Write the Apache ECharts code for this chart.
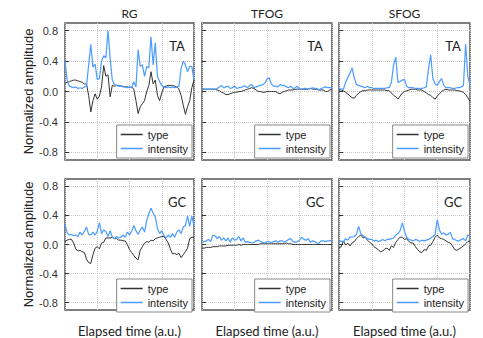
<!DOCTYPE html>
<html>
<head>
<meta charset="utf-8">
<script src="https://cdn.jsdelivr.net/npm/echarts@6/dist/echarts.min.js"></script>
<style>
html, body { margin: 0; padding: 0; background: #fff; }
#chart { width: 483px; height: 338px; }
</style>
</head>
<body>
<div id="chart"></div>
<script>
var conditions = ['RG', 'TFOG', 'SFOG'];
var muscles = ['TA', 'GC'];
var yTicks = [-0.8, -0.4, 0, 0.4, 0.8];

// TA row
var ta_rg_type = [0.11,0.12,0.13,0.14,0.15,0.15,0.14,0.13,0.12,0.10,
  0.10,-0.05,-0.27,-0.12,-0.03,-0.10,-0.06,0.06,0.34,0.20,
  0.22,-0.07,0.08,0.07,0.08,0.08,0.07,0.07,0.06,0.06,
  0.05,0.06,0.03,-0.12,-0.29,-0.20,-0.16,-0.12,0.00,0.08,
  0.26,0.10,0.15,-0.05,-0.12,-0.02,0.06,0.07,0.08,0.08,
  0.08,0.07,0.06,0.03,-0.05,-0.18,-0.30,-0.20,-0.12,0.05,
  0.15];
var ta_rg_int = [0.40,0.15,0.07,0.06,0.05,0.06,0.04,0.05,0.04,0.06,
  0.07,0.35,0.62,0.32,0.36,0.16,0.17,0.40,0.47,0.44,
  0.80,0.44,0.15,0.09,0.08,0.07,0.07,0.06,0.06,0.05,
  0.06,0.05,0.13,0.06,0.55,0.33,0.35,0.20,0.33,0.31,
  0.72,0.35,0.64,0.20,0.13,0.08,0.06,0.05,0.06,0.05,
  0.06,0.05,0.06,0.07,0.30,0.40,0.35,0.26,0.33,0.33,
  0.15];
var ta_tfog_type = [0.03,0.03,0.03,0.03,0.03,0.03,0.03,0.02,0.01,-0.01,
  -0.02,-0.04,-0.04,-0.03,-0.02,-0.01,-0.01,0.00,0.00,0.01,
  0.02,0.03,0.04,0.05,0.04,0.02,0.00,0.00,-0.01,-0.01,
  0.00,0.00,0.00,0.00,0.00,-0.02,-0.03,-0.01,0.00,0.01,
  0.02,0.02,0.02,0.03,0.03,0.03,0.03,0.03,0.03,0.03,
  0.04,0.03,0.03,0.03,0.02,0.02,0.02,0.00,0.00,0.02,
  0.03];
var ta_tfog_int = [0.03,0.03,0.03,0.03,0.03,0.03,0.03,0.04,0.06,0.08,
  0.05,0.06,0.07,0.04,0.05,0.07,0.04,0.05,0.05,0.07,
  0.07,0.05,0.08,0.09,0.05,0.06,0.07,0.08,0.09,0.11,
  0.16,0.18,0.10,0.07,0.07,0.06,0.09,0.08,0.08,0.06,
  0.05,0.07,0.04,0.05,0.07,0.03,0.03,0.04,0.04,0.03,
  0.04,0.05,0.04,0.04,0.02,0.04,0.05,0.06,0.05,0.05,
  0.05];
var ta_sfog_type = [0.03,0.02,0.01,-0.01,-0.03,-0.06,-0.08,-0.09,-0.05,-0.02,
  0.00,0.01,0.01,0.02,0.02,0.02,0.02,0.02,0.02,0.02,
  0.02,0.02,0.01,0.01,-0.02,-0.05,-0.07,-0.10,-0.06,-0.02,
  0.00,0.01,0.02,0.03,0.03,0.03,0.02,0.02,0.02,0.00,
  -0.02,-0.04,-0.05,-0.08,-0.10,-0.06,-0.03,0.00,0.02,0.03,
  0.02,0.02,0.02,0.02,0.01,0.01,0.00,-0.01,-0.04,-0.08,
  -0.13];
var ta_sfog_int = [0.04,0.03,0.03,0.12,0.18,0.24,0.31,0.18,0.09,0.08,
  0.07,0.06,0.05,0.07,0.05,0.05,0.04,0.04,0.04,0.04,
  0.04,0.04,0.05,0.05,0.12,0.35,0.45,0.12,0.13,0.15,
  0.16,0.07,0.05,0.05,0.05,0.04,0.04,0.04,0.04,0.05,
  0.06,0.30,0.48,0.17,0.10,0.08,0.13,0.17,0.08,0.05,
  0.05,0.05,0.04,0.04,0.05,0.05,0.06,0.08,0.62,0.20,
  0.08];

// GC row
var gc_rg_type = [0.04,0.06,0.07,0.07,0.02,-0.06,-0.09,-0.08,-0.10,-0.11,
  -0.20,-0.25,-0.26,-0.14,-0.05,-0.03,-0.06,0.02,0.03,0.09,
  0.09,0.09,0.10,0.08,0.08,0.06,0.06,0.05,0.05,0.00,
  -0.07,-0.11,-0.15,-0.19,-0.21,-0.08,-0.03,0.02,0.04,0.03,
  0.06,0.05,0.08,0.09,0.10,0.11,0.11,0.07,0.02,-0.06,
  -0.13,-0.12,-0.14,-0.12,-0.18,-0.14,-0.10,-0.05,0.08,0.10,
  0.10];
var gc_rg_int = [0.28,0.16,0.13,0.14,0.12,0.13,0.11,0.17,0.13,0.18,
  0.24,0.14,0.13,0.17,0.13,0.18,0.30,0.15,0.20,0.18,
  0.11,0.19,0.10,0.08,0.11,0.09,0.10,0.13,0.10,0.17,
  0.13,0.18,0.26,0.19,0.14,0.20,0.24,0.17,0.33,0.42,
  0.50,0.43,0.38,0.22,0.15,0.19,0.12,0.09,0.13,0.10,
  0.15,0.10,0.17,0.20,0.15,0.24,0.26,0.39,0.25,0.39,
  0.26];
var gc_tfog_type = [-0.05,-0.05,-0.04,-0.04,-0.04,-0.03,-0.03,-0.03,-0.02,-0.02,
  -0.02,-0.02,-0.01,-0.01,-0.01,-0.01,-0.01,0.00,-0.01,0.00,
  0.00,0.00,0.00,0.00,0.00,0.00,0.00,0.01,0.01,0.01,
  0.01,0.01,0.01,0.01,0.01,0.01,0.01,0.01,0.01,0.02,
  0.01,0.01,0.00,0.00,0.00,0.00,0.00,0.00,0.00,0.00,
  0.00,0.00,0.00,0.00,0.00,0.00,0.00,0.00,0.00,0.00,
  0.00];
var gc_tfog_int = [0.03,0.04,0.05,0.07,0.04,0.13,0.12,0.08,0.11,0.06,
  0.09,0.05,0.09,0.03,0.09,0.06,0.07,0.11,0.05,0.09,
  0.03,0.04,0.03,0.02,0.03,0.05,0.06,0.04,0.03,0.02,
  0.04,0.04,0.02,0.04,0.05,0.03,0.05,0.05,0.03,0.05,
  0.07,0.08,0.04,0.03,0.04,0.06,0.10,0.07,0.06,0.08,
  0.03,0.05,0.04,0.02,0.02,0.05,0.05,0.04,0.05,0.05,
  0.06];
var gc_sfog_type = [-0.05,-0.03,0.05,-0.01,0.02,-0.02,0.02,0.04,0.08,0.11,
  0.13,0.09,0.10,0.06,0.03,0.01,-0.03,-0.05,-0.07,-0.10,
  -0.09,-0.06,-0.05,-0.08,-0.02,-0.04,0.03,0.07,0.10,0.10,
  0.07,0.08,0.04,0.02,0.02,-0.03,-0.07,-0.10,-0.11,-0.07,
  -0.08,-0.02,-0.01,0.04,0.10,0.13,0.09,0.08,0.07,0.05,
  0.03,0.02,-0.02,-0.07,-0.08,-0.06,-0.04,-0.02,0.01,0.04,
  0.05];
var gc_sfog_int = [0.03,0.05,0.03,0.08,0.06,0.10,0.10,0.11,0.14,0.25,
  0.15,0.12,0.10,0.08,0.07,0.07,0.05,0.06,0.04,0.05,
  0.07,0.05,0.07,0.07,0.08,0.09,0.13,0.15,0.19,0.30,
  0.18,0.10,0.07,0.06,0.05,0.07,0.06,0.04,0.06,0.05,
  0.06,0.07,0.09,0.11,0.14,0.34,0.20,0.14,0.16,0.13,
  0.14,0.17,0.08,0.07,0.05,0.05,0.07,0.08,0.05,0.13,
  0.12];

var typeData = [[ta_rg_type, ta_tfog_type, ta_sfog_type], [gc_rg_type, gc_tfog_type, gc_sfog_type]];
var intData = [[ta_rg_int, ta_tfog_int, ta_sfog_int], [gc_rg_int, gc_tfog_int, gc_sfog_int]];

// panel boxes
var colLeft = [65, 202, 339];
var colWidth = [129, 130, 131];
var rowTop = [23, 179];
var rowHeight = [137, 135];

var W = 483, H = 338;
var grids = [], xAxes = [], yAxes = [], series = [], legends = [], graphics = [];

function toPoints(arr) {
  return arr.map(function (v, i) { return [i, v]; });
}

for (var r = 0; r < 2; r++) {
  for (var c = 0; c < 3; c++) {
    var k = r * 3 + c;
    var n = typeData[r][c].length - 1;
    grids.push({
      left: colLeft[c], top: rowTop[r], width: colWidth[c], height: rowHeight[r],
      show: true, borderColor: '#555', borderWidth: 1.5, backgroundColor: '#fff'
    });
    xAxes.push({
      gridIndex: k, type: 'value', min: 0, max: n, interval: n / 4,
      axisLine: { show: false }, axisTick: { show: false }, axisLabel: { show: false },
      splitLine: { show: true, lineStyle: { type: 'dotted', color: '#c8c8c8', width: 1 } },
      name: r === 1 ? 'Elapsed time (a.u.)' : '',
      nameLocation: 'middle', nameGap: 14,
      nameTextStyle: { fontSize: 13, fontFamily: 'Lato', color: '#222' }
    });
    yAxes.push({
      gridIndex: k, type: 'value', min: -0.9, max: 0.9,
      axisLine: { show: false },
      axisTick: { show: true, inside: true, length: 4, customValues: yTicks, lineStyle: { color: '#333', width: 1 } },
      axisLabel: {
        show: c === 0, customValues: yTicks, fontSize: 11, color: '#333',
        fontFamily: 'Liberation Sans', margin: 7,
        formatter: function (v) { return v.toFixed(1); }
      },
      splitLine: { show: true, lineStyle: { type: 'dotted', color: '#c8c8c8', width: 1 } },
      name: c === 0 ? 'Normalized amplitude' : '',
      nameLocation: 'middle', nameGap: 25,
      nameTextStyle: { fontSize: 13, fontFamily: 'Liberation Sans', color: '#222' }
    });
    series.push({
      name: 'type', type: 'line', xAxisIndex: k, yAxisIndex: k,
      data: toPoints(typeData[r][c]), symbol: 'none',
      lineStyle: { color: '#333', width: 1 }, itemStyle: { color: '#333' }, z: 3
    });
    series.push({
      name: 'intensity', type: 'line', xAxisIndex: k, yAxisIndex: k,
      data: toPoints(intData[r][c]), symbol: 'none',
      lineStyle: { color: '#4a9cff', width: 1.2 }, itemStyle: { color: '#4a9cff' }, z: 4
    });
    legends.push({
      data: ['type', 'intensity'], orient: 'vertical', selectedMode: false,
      right: W - (colLeft[c] + colWidth[c]) + 2,
      bottom: H - (rowTop[r] + rowHeight[r]) + 2,
      icon: 'rect', itemWidth: 22, itemHeight: 1.5, itemGap: 3, itemTextGap: 4,
      padding: [4, 4, 4, 4],
      borderColor: '#888', borderWidth: 1, backgroundColor: '#fff',
      textStyle: { fontSize: 11, fontFamily: 'Liberation Sans', color: '#222' }
    });
    graphics.push({
      type: 'text', x: colLeft[c] + colWidth[c] - 17, y: rowTop[r] + 23,
      style: { text: muscles[r], align: 'center', verticalAlign: 'middle', fontSize: 13, fontFamily: 'Lato', fill: '#222' }
    });
    if (r === 0) {
      graphics.push({
        type: 'text', x: colLeft[c] + colWidth[c] / 2, y: 13,
        style: { text: conditions[c], align: 'center', verticalAlign: 'middle', fontSize: 12, fontFamily: 'Lato', fill: '#222' }
      });
    }
  }
}

var chart = echarts.init(document.getElementById('chart'), null, { renderer: 'svg' });
chart.setOption({
  animation: false,
  backgroundColor: '#fff',
  grid: grids,
  xAxis: xAxes,
  yAxis: yAxes,
  legend: legends,
  series: series,
  graphic: graphics
});
</script>
</body>
</html>
